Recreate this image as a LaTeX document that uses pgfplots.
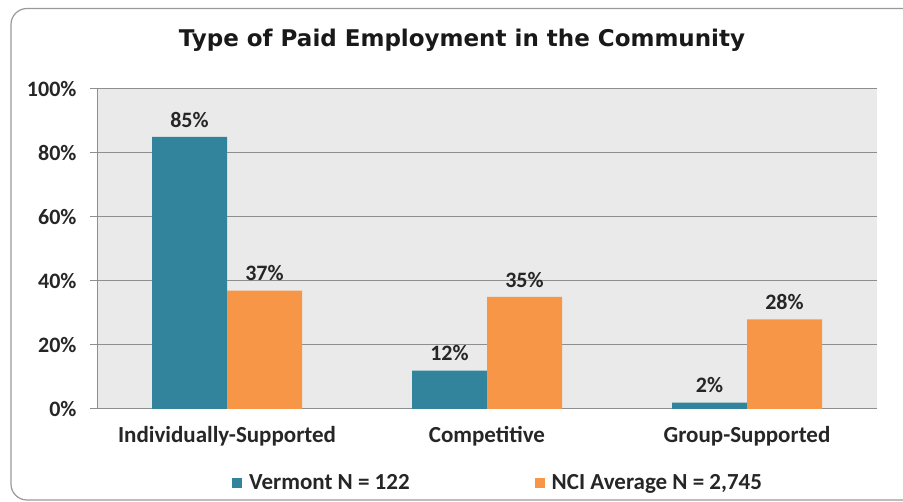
\documentclass[border=0pt]{standalone}
\usepackage{fontspec}
\setmainfont{Carlito}
\newfontfamily\titlefont{DejaVu Sans}
\usepackage{pgfplots}
\pgfplotsset{compat=1.18}
\definecolor{vt}{HTML}{31849B}
\definecolor{nci}{HTML}{F79646}
\definecolor{plotbg}{HTML}{EAEAEA}
\definecolor{gridc}{HTML}{8E8E8E}
\begin{document}
\begin{tikzpicture}
\useasboundingbox (0,0) rectangle (903bp,502bp);
\clip (0,0) rectangle (903bp,502bp);
\draw[black!40, line width=1.2bp, rounded corners=16bp] (930bp,493.5bp) -- (11bp,493.5bp) -- (11bp,2bp) -- (930bp,2bp);
\node[font=\titlefont\bfseries\fontsize{23bp}{26bp}\selectfont, text=black!90] at (462bp,462bp) {Type of Paid Employment in the Community};
\begin{axis}[
  at={(97bp,93bp)}, anchor=south west,
  scale only axis, width=780bp, height=320bp,
  xmin=0, xmax=3, ymin=0, ymax=100,
  ybar=0pt, bar width=75bp,
  axis x line*=bottom, axis y line*=left,
  axis line style={gridc, line width=1bp},
  axis background/.style={fill=plotbg},
  ymajorgrids, major grid style={gridc, line width=1bp},
  ytick={0,20,40,60,80,100},
  yticklabel={\pgfmathprintnumber{\tick}\%},
  /pgf/number format/assume math mode=true,
  yticklabel style={font=\bfseries\fontsize{22bp}{24bp}\selectfont, text=black!85, xshift=-10bp},
  ytick style={gridc, line width=1bp},
  tick align=outside, major tick length=7bp,
  xtick={0.5,1.5,2.5},
  xticklabels={Individually-Supported, Competitive, Group-Supported},
  xticklabel style={font=\bfseries\fontsize{23bp}{25bp}\selectfont, text=black!85, yshift=-7bp},
  x tick style={draw=none},
  minor xtick={1,2,3},
  minor x tick style={gridc, line width=1bp},
  minor tick length=7bp,
  nodes near coords={\pgfmathprintnumber{\pgfplotspointmeta}\%},
  nodes near coords style={font=\bfseries\fontsize{22bp}{24bp}\selectfont, text=black!85, anchor=south, yshift=6bp},
  legend columns=2,
  legend style={at={(0.1731,-0.231)}, anchor=west, draw=none, fill=none, inner sep=0pt,
    font=\bfseries\fontsize{23bp}{25bp}\selectfont, text=black!85,
    /tikz/every odd column/.append style={column sep=5bp},
    /tikz/every even column/.append style={column sep=123bp}},
  legend image code/.code={\fill[#1] (0bp,-5bp) rectangle (10bp,5bp);},
  clip=false,
]
\addplot[fill=vt, draw=none] coordinates {(0.5,85) (1.5,12) (2.5,2)};
\addplot[fill=nci, draw=none] coordinates {(0.5,37) (1.5,35) (2.5,28)};
\legend{Vermont N = 122, NCI Average N = 2{,}745}
\end{axis}
\end{tikzpicture}
\end{document}
